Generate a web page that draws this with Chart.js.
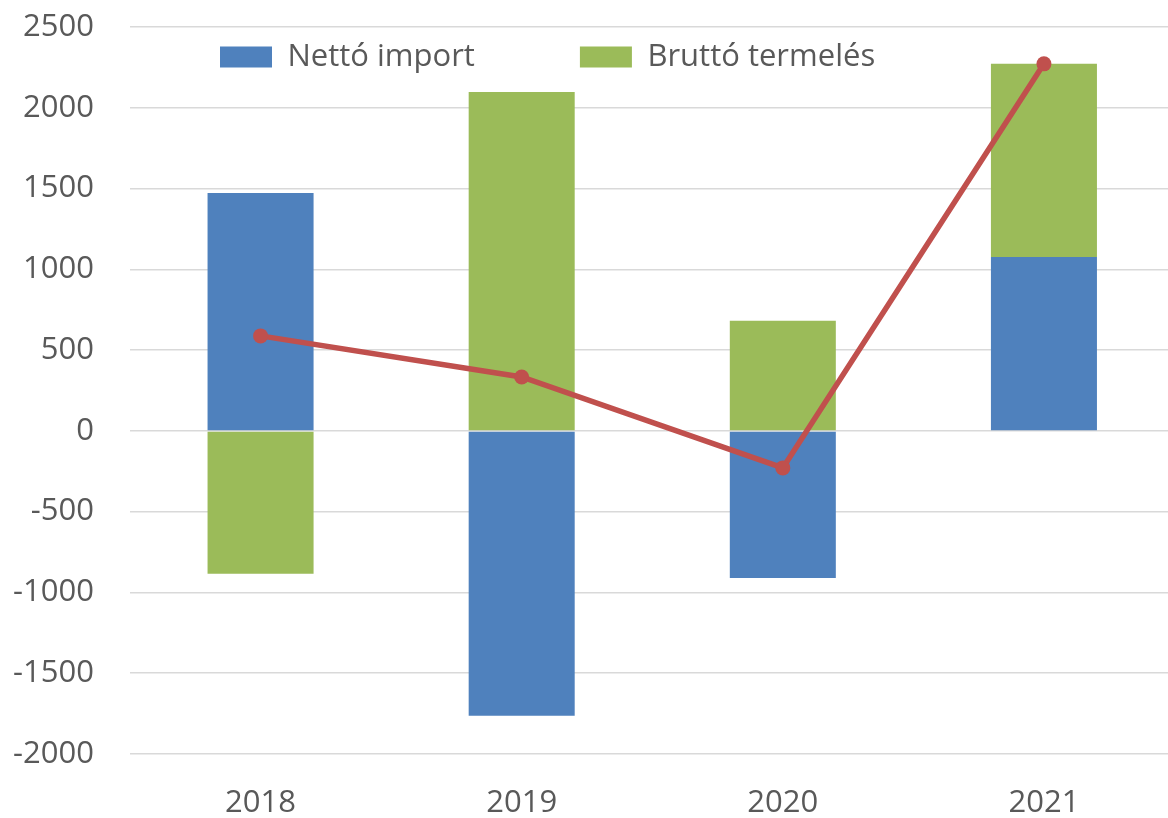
<html>
<head>
<meta charset="utf-8">
<script src="https://cdn.jsdelivr.net/npm/chart.js"></script>
<style>
    body { margin: 0; background: #ffffff; overflow: hidden; }
    #wrap { width: 1182px; height: 818px; }
</style>
</head>
<script>
    // values
    var years = ['2018', '2019', '2020', '2021'];
    var nettoImport = [1473, -1764, -910, 1077];
    var bruttoTermeles = [-885, 2098, 681, 1195];
    var osszesen = [588, 334, -229, 2272];
    var yTicks = [-2000, -1500, -1000, -500, 0, 500, 1000, 1500, 2000, 2500];

    var textColor = '#595959';
    var fontName = "'Open Sans', sans-serif";

    // the legend sits inside the plot in the original, so move it there
    var legendPlace = {
        id: 'legendPlace',
        afterLayout: function (chart) {
            var lg = chart.legend;
            var pad = lg.options.labels.padding;
            lg.left = 220 - pad;
            lg.right = 1182;
            lg.top = 41.5 - pad;
            lg.bottom = 120;
        }
    };

    function draw() {
        var data = {
            labels: years,
            datasets: [{
                type: 'line',
                label: 'Összesen',
                data: osszesen,
                borderColor: '#c0504d',
                backgroundColor: '#c0504d',
                borderWidth: 5.5,
                pointRadius: 7.5,
                pointBorderWidth: 0,
                pointBackgroundColor: '#c0504d',
                stack: 'total',
                order: 0
            },
            {
                label: 'Nettó import',
                data: nettoImport,
                backgroundColor: '#4f81bd',
                borderWidth: 0,
                stack: 'bars',
                order: 1
            },
            {
                label: 'Bruttó termelés',
                data: bruttoTermeles,
                backgroundColor: '#9bbb59',
                borderWidth: 0,
                stack: 'bars',
                order: 1
            }]
        };

        var config = {
            type: 'bar',
            data: data,
            plugins: [legendPlace],
            options: {
                responsive: true,
                maintainAspectRatio: false,
                animation: false,
                categoryPercentage: 1,
                barPercentage: 0.406,
                layout: { padding: 0 },
                plugins: {
                    tooltip: { enabled: false },
                    legend: {
                        position: 'top',
                        align: 'start',
                        maxHeight: 1,
                        labels: {
                            boxWidth: 52,
                            boxHeight: 21,
                            padding: 105,
                            color: textColor,
                            font: { family: fontName, size: 31 },
                            filter: function (item) { return item.text !== 'Összesen'; }
                        }
                    }
                },
                scales: {
                    x: {
                        stacked: true,
                        grid: { display: false },
                        border: { display: false },
                        ticks: {
                            color: textColor,
                            padding: 23,
                            font: { family: fontName, size: 31 }
                        },
                        afterFit: function (scale) { scale.height = 64; }
                    },
                    y: {
                        stacked: true,
                        min: -2000,
                        max: 2500,
                        afterBuildTicks: function (scale) {
                            scale.ticks = yTicks.map(function (v) { return { value: v }; });
                        },
                        grid: { color: '#d9d9d9', lineWidth: 1.5, drawTicks: false },
                        border: { display: false },
                        ticks: {
                            color: textColor,
                            padding: 36,
                            font: { family: fontName, size: 31 },
                            callback: function (v) { return String(v); }
                        },
                        afterFit: function (scale) {
                            scale.width = 130;
                            scale.paddingTop = 27;
                            scale.paddingBottom = 0;
                        }
                    }
                }
            }
        };

        new Chart(document.getElementById('chart'), config);
    }
</script>

<body onload="draw()">
    <div id="wrap">
        <canvas id="chart"></canvas>
    </div>
</body>

</html>
